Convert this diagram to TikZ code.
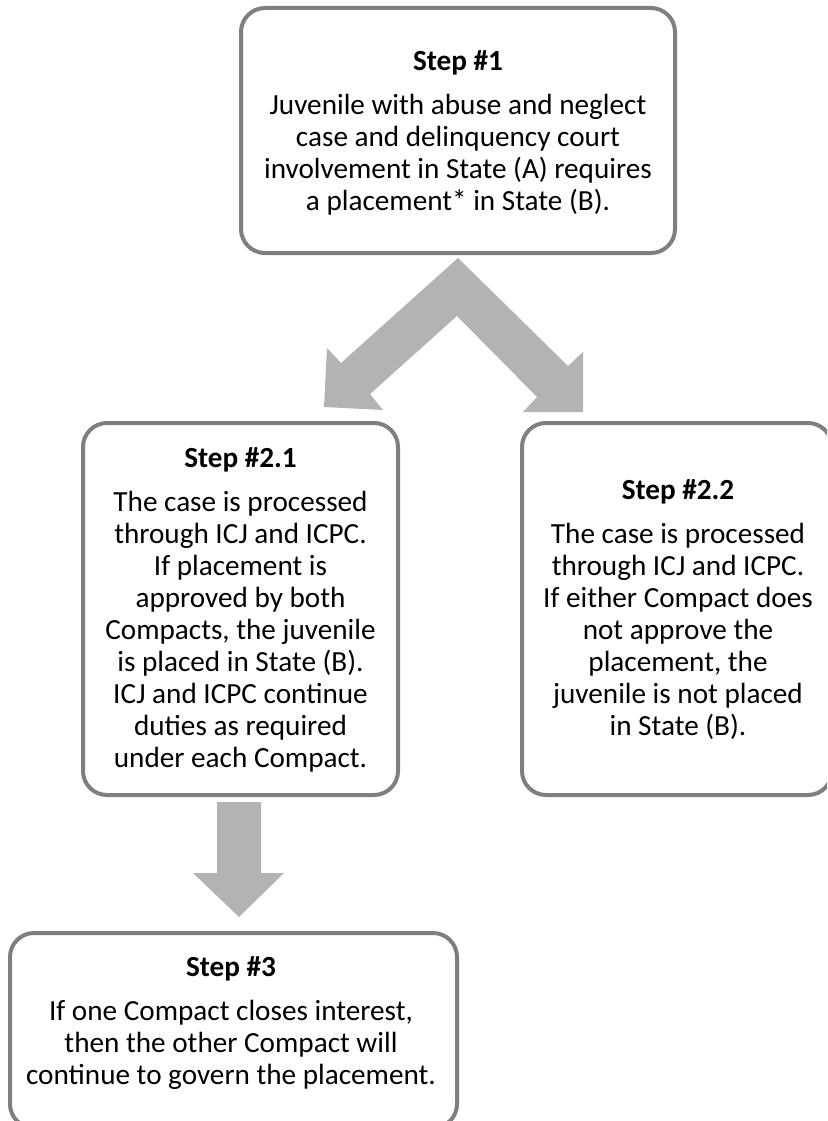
\documentclass[tikz,border=0pt]{standalone}
\usepackage{fontspec}
\setmainfont{Carlito}
\definecolor{boxgray}{HTML}{7F7F7F}
\definecolor{arrgray}{HTML}{B3B3B3}
\begin{document}
\begin{tikzpicture}[x=1pt,y=-1pt,
  stepbox/.style={draw=boxgray, line width=4pt, rounded corners=24pt, fill=white, inner sep=0pt},
  steptext/.style={align=center, anchor=north, inner sep=0pt, font=\fontsize{29.2}{32}\selectfont},
  blockarrow/.style={fill=arrgray, draw=none}]
\useasboundingbox (0,0) rectangle (827,1121);
\clip (0,0) rectangle (827,1121);
% boxes
\node[stepbox, minimum width=434pt, minimum height=245pt] (b1) at (458,130.5) {};
\node[stepbox, minimum width=315pt, minimum height=372pt] (b21) at (240.5,609) {};
\node[stepbox, minimum width=310pt, minimum height=372pt] (b22) at (677,609) {};
\node[stepbox, minimum width=447pt, minimum height=195pt] (b3) at (233.5,1030.5) {};
% texts
\node[steptext] (t1) at (458,47.6) {\strut\textbf{Step \#1}\\[12pt]
  Juvenile with abuse and neglect\\
  case and delinquency court\\
  involvement in State (A) requires\\
  a placement* in State (B).};
\node[steptext] (t21) at (240.5,444.6) {\strut\textbf{Step \#2.1}\\[12pt]
  The case is processed\\
  through ICJ and ICPC.\\
  If placement is\\
  approved by both\\
  Compacts, the juvenile\\
  is placed in State (B).\\
  ICJ and ICPC continue\\
  duties as required\\
  under each Compact.};
\node[steptext] (t22) at (678,476.6) {\strut\textbf{Step \#2.2}\\[12pt]
  The case is processed\\
  through ICJ and ICPC.\\
  If either Compact does\\
  not approve the\\
  placement, the\\
  juvenile is not placed\\
  in State (B).};
\node[steptext] (t3) at (231,953.6) {\strut\textbf{Step \#3}\\[12pt]
  If one Compact closes interest,\\
  then the other Compact will\\
  continue to govern the placement.};
% block arrows
\fill[blockarrow] (458,258) -- (341,363) -- (327,348) -- (324,407) -- (383,410)
  -- (370,394) -- (457,316) -- (537,397) -- (523,412) -- (583,412) -- (583,352)
  -- (568,366) -- cycle;
\fill[blockarrow] (217,802) -- (261,802) -- (261,873) -- (284,873) -- (239,917)
  -- (193,873) -- (217,873) -- cycle;
\end{tikzpicture}
\end{document}
